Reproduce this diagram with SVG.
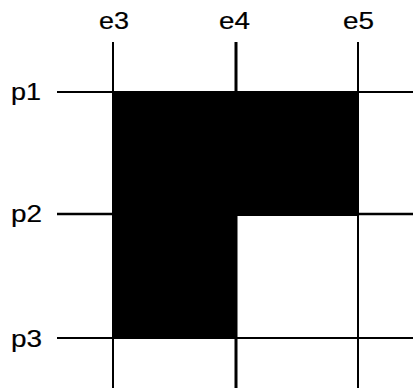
<svg xmlns="http://www.w3.org/2000/svg" width="413" height="391" viewBox="0 0 413 391">
<style>
.g{stroke:#000;stroke-width:2;fill:none}
.t{font-family:"Liberation Sans",Arial,sans-serif;font-size:24px;fill:#000;stroke:#000;stroke-width:0.2}
</style>
<rect width="413" height="391" fill="#fff"/>
<g id="fill">
<path d="M113 92 H358 V216 H236 V338 H113 Z" fill="#000"/>
</g>
<g id="grid">
<line class="g" x1="113" y1="42" x2="113" y2="388"/>
<line class="g" x1="236" y1="42" x2="236" y2="388" style="stroke-width:3"/>
<line class="g" x1="358" y1="42" x2="358" y2="388"/>
<line class="g" x1="57" y1="92" x2="413" y2="92"/>
<line class="g" x1="57" y1="214" x2="413" y2="214" style="stroke-width:2.5"/>
<line class="g" x1="57" y1="338" x2="413" y2="338"/>
</g>
<g id="labels">
<text class="t" x="99" y="29" textLength="30" lengthAdjust="spacingAndGlyphs">e3</text>
<text class="t" x="219" y="29" textLength="31" lengthAdjust="spacingAndGlyphs">e4</text>
<text class="t" x="343" y="29" textLength="31" lengthAdjust="spacingAndGlyphs">e5</text>
<text class="t" x="11" y="100" textLength="30" lengthAdjust="spacingAndGlyphs">p1</text>
<text class="t" x="11" y="222" textLength="31" lengthAdjust="spacingAndGlyphs">p2</text>
<text class="t" x="11" y="347" textLength="31" lengthAdjust="spacingAndGlyphs">p3</text>
</g>
</svg>
